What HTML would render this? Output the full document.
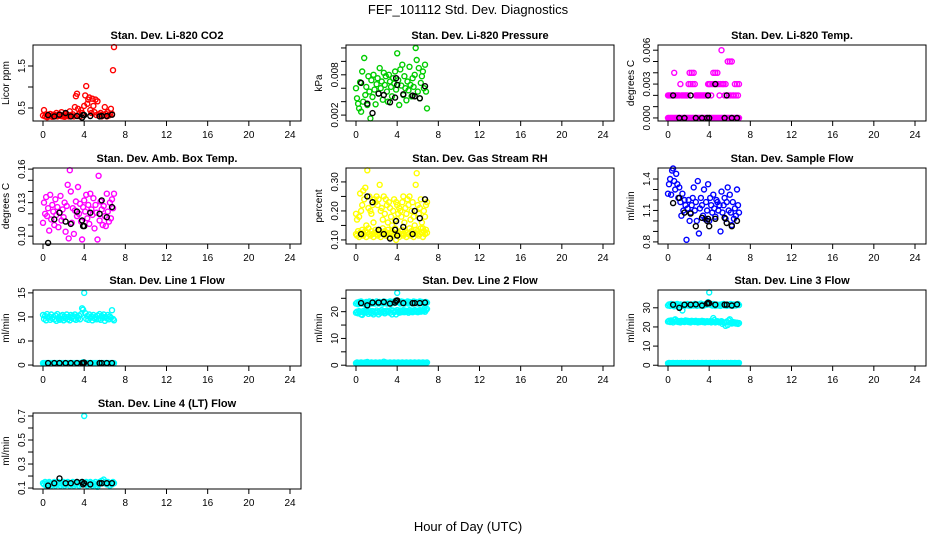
<!DOCTYPE html>
<html><head><meta charset="utf-8">
<style>
html,body{margin:0;padding:0;background:#fff;}
svg{display:block;font-family:"Liberation Sans",sans-serif;}
</style></head>
<body>
<svg id="chart" width="936" height="540" viewBox="0 0 936 540" xmlns="http://www.w3.org/2000/svg">
<rect x="0" y="0" width="936" height="540" fill="#fff"/>
<text x="468" y="14" text-anchor="middle" font-size="13">FEF_101112  Std. Dev. Diagnostics</text>
<text x="468" y="531" text-anchor="middle" font-size="13">Hour of Day (UTC)</text>
</svg>
<script>
// ---- data ----
const hrs=[0,0.1,0.2,0.3,0.4,0.5,0.6,0.7,0.8,0.9,1.0,1.1,1.2,1.3,1.4,1.5,1.6,1.7,1.8,1.9,2.0,2.1,2.2,2.3,2.4,2.5,2.6,2.7,2.8,2.9,3.0,3.1,3.2,3.3,3.4,3.5,3.6,3.7,3.8,3.9,4.0,4.1,4.2,4.3,4.4,4.5,4.6,4.7,4.8,4.9,5.0,5.1,5.2,5.3,5.4,5.5,5.6,5.7,5.8,5.9,6.0,6.1,6.2,6.3,6.4,6.5,6.6,6.7,6.8,6.9];
const blackHrs=[0.5,1.1,1.6,2.2,2.7,3.3,3.8,3.9,4.0,4.6,5.5,5.7,6.2,6.7];
const xTicks=[0,4,8,12,16,20,24];

const co2=[0.32,0.45,0.30,0.35,0.28,0.33,0.30,0.36,0.31,0.29,0.34,0.30,0.33,0.38,0.30,0.32,0.35,0.31,0.40,0.30,0.33,0.29,0.36,0.31,0.34,0.30,0.42,0.33,0.31,0.35,0.30,0.52,0.78,0.84,0.48,0.35,0.30,0.45,0.38,0.33,0.55,0.80,1.02,0.60,0.70,0.75,0.45,0.38,0.72,0.55,0.40,0.70,0.33,0.66,0.35,0.31,0.38,0.30,0.34,0.33,0.52,0.36,0.30,0.40,0.32,0.35,0.48,0.36,1.40,1.95];
const co2Black=[0.33,0.30,0.34,0.38,0.30,0.31,0.27,0.33,0.33,0.31,0.30,0.31,0.31,0.34];

const pres=[0.0060,0.0045,0.0037,0.0030,0.0069,0.0025,0.0085,0.0040,0.0105,0.0050,0.0062,0.0035,0.0078,0.0055,0.0015,0.0072,0.0047,0.0080,0.0058,0.0036,0.0066,0.0075,0.0052,0.0090,0.0060,0.0070,0.0043,0.0083,0.0065,0.0078,0.0055,0.0040,0.0080,0.0070,0.0062,0.0048,0.0075,0.0067,0.0085,0.0058,0.0112,0.0072,0.0035,0.0088,0.0064,0.0095,0.0050,0.0078,0.0060,0.0042,0.0070,0.0057,0.0092,0.0065,0.0048,0.0075,0.0062,0.0080,0.0120,0.0102,0.0055,0.0090,0.0045,0.0068,0.0078,0.0085,0.0060,0.0095,0.0055,0.0030];
const presBlack=[0.0068,0.0037,0.0023,0.0052,0.0050,0.0039,0.0046,0.0075,0.0065,0.0051,0.0049,0.0048,0.0045,0.0063];

const tempLow=[0,0,0,0,0,0,0,0,0,0,0,0,0,0,0,0,0,0,0,0,0,0,0,0,0,0,0,0,0,0,0,0,0,0,0,0,0,0,0,0,0,0,0,0,0,0,0,0,0,0,0,0,0,0,0,0,0,0,0,0,0,0,0,0,0,0,0,0,0,0];
const tempHigh=[0.002,0.002,0.002,0.002,0.002,0.002,0.004,0.002,0.002,0.002,0.002,0.002,0.003,0.002,0.002,0.002,0.002,0.002,0.002,0.002,0.003,0.004,0.003,0.004,0.003,0.004,0.003,0.002,0.002,0.002,0.002,0.002,0.002,0.002,0.002,0.002,0.002,0.002,0.002,0.003,0.003,0.003,0.002,0.003,0.004,0.003,0.004,0.003,0.004,0.003,0.002,0.003,0.006,0.003,0.003,0.002,0.003,0.002,0.005,0.002,0.005,0.002,0.005,0.002,0.002,0.003,0.002,0.003,0.002,0.003];
const tempBlack=[0.002,0,0,0.002,0,0,0,0.002,0,0.003,0,0.002,0,0];

const amb=[0.112,0.130,0.120,0.135,0.118,0.125,0.105,0.137,0.115,0.128,0.122,0.110,0.133,0.119,0.126,0.108,0.121,0.136,0.114,0.124,0.117,0.130,0.104,0.127,0.146,0.098,0.159,0.140,0.112,0.125,0.102,0.123,0.131,0.118,0.144,0.120,0.129,0.113,0.097,0.126,0.132,0.122,0.137,0.116,0.128,0.111,0.138,0.124,0.119,0.134,0.107,0.128,0.121,0.097,0.154,0.114,0.131,0.124,0.110,0.127,0.118,0.109,0.138,0.122,0.113,0.130,0.116,0.133,0.125,0.138];
const ambBlack=[0.094,0.115,0.121,0.113,0.111,0.122,0.114,0.109,0.109,0.121,0.120,0.132,0.117,0.126];

const rhLow=[0.12,0.115,0.13,0.11,0.125,0.12,0.135,0.115,0.12,0.13,0.11,0.125,0.14,0.12,0.115,0.13,0.12,0.11,0.125,0.135,0.12,0.115,0.13,0.12,0.11,0.125,0.14,0.12,0.13,0.115,0.12,0.135,0.11,0.125,0.12,0.13,0.115,0.12,0.14,0.10,0.125,0.12,0.11,0.13,0.12,0.135,0.115,0.12,0.13,0.11,0.125,0.12,0.14,0.115,0.13,0.12,0.11,0.125,0.135,0.12,0.13,0.115,0.12,0.14,0.125,0.11,0.13,0.12,0.135,0.125];
const rhHigh=[0.19,0.17,0.13,0.18,0.26,0.20,0.22,0.27,0.24,0.28,0.15,0.34,0.21,0.25,0.20,0.19,0.22,0.16,0.24,0.23,0.25,0.22,0.24,0.29,0.20,0.21,0.17,0.25,0.19,0.24,0.22,0.16,0.23,0.21,0.18,0.15,0.20,0.24,0.17,0.23,0.22,0.19,0.21,0.20,0.18,0.23,0.25,0.16,0.21,0.19,0.24,0.22,0.25,0.17,0.20,0.23,0.18,0.15,0.29,0.33,0.22,0.19,0.21,0.24,0.16,0.14,0.20,0.18,0.22,0.23];
const rhBlack=[0.12,0.25,0.23,0.135,0.12,0.105,0.135,0.165,0.115,0.145,0.12,0.20,0.175,0.24];

const samp=[1.26,1.35,1.40,1.25,1.48,1.50,1.38,1.30,1.45,1.35,1.22,1.32,1.18,1.05,1.26,1.10,1.20,1.15,0.82,1.12,1.20,1.00,1.08,1.15,1.22,1.32,1.10,1.18,1.00,1.38,0.88,1.12,1.22,1.15,1.05,1.30,1.02,1.18,1.10,1.35,1.00,1.22,1.15,1.08,1.25,1.12,1.04,1.20,1.18,1.10,1.15,0.90,1.28,1.08,1.15,1.22,1.02,1.18,1.32,1.10,1.25,1.08,0.96,1.18,1.02,1.12,1.05,1.30,1.15,1.08];
const sampBlack=[1.17,1.22,1.08,1.07,0.95,1.03,1.00,1.02,0.95,1.02,1.03,0.98,0.95,1.00];

const l1High=[10.4,9.6,10.2,9.3,10.6,9.8,10.1,9.4,10.5,9.7,10.0,9.5,10.3,9.2,10.6,9.8,9.4,10.2,9.6,10.4,9.3,10.1,9.7,10.5,9.5,10.0,9.3,10.4,9.8,10.2,9.6,10.5,9.4,10.1,9.7,10.3,9.5,10.6,11.8,11.5,15.0,10.8,9.6,10.2,9.4,10.5,9.8,10.1,9.3,10.4,9.7,10.0,9.5,10.3,9.6,10.6,9.4,10.2,9.8,10.5,9.2,10.0,9.7,10.4,9.5,10.1,9.8,11.4,9.6,9.3];
const l1Low=[0.4,0.4,0.4,0.4,0.4,0.4,0.4,0.4,0.4,0.4,0.4,0.4,0.4,0.4,0.4,0.4,0.4,0.4,0.4,0.4,0.4,0.4,0.4,0.4,0.4,0.4,0.4,0.4,0.4,0.4,0.4,0.4,0.4,0.4,0.4,0.4,0.4,0.4,0.4,0.6,0.4,0.4,0.4,0.4,0.4,0.4,0.4,0.4,0.4,0.4,0.4,0.4,0.4,0.4,0.4,0.4,0.4,0.4,0.4,0.4,0.4,0.4,0.4,0.4,0.4,0.4,0.4,0.4,0.4,0.4];
const l1Black=[0.4,0.4,0.4,0.4,0.4,0.4,0.4,0.4,0.5,0.4,0.4,0.4,0.4,0.4];

const l2High=[23.0,23.4,22.8,23.6,23.2,23.8,23.0,23.4,23.2,22.6,23.6,23.0,23.4,23.8,23.2,23.0,23.6,23.4,23.0,23.2,23.8,23.4,23.0,23.6,23.2,23.4,23.0,23.8,23.2,23.6,23.0,23.4,23.2,23.8,23.0,23.6,23.4,23.2,24.0,24.2,27.0,23.6,23.4,23.0,23.8,23.2,23.6,23.0,23.4,23.2,23.8,23.0,23.6,23.4,23.2,23.0,23.8,23.4,23.6,23.2,23.0,23.4,23.8,23.2,23.6,23.0,23.4,23.2,23.6,23.4];
const l2Mid=[19.6,20.0,19.4,20.2,19.8,19.0,18.8,20.2,19.6,20.4,19.8,20.0,19.2,20.4,19.8,19.4,20.2,19.0,20.0,19.6,20.4,19.8,19.0,20.2,19.6,20.6,19.8,20.2,19.4,20.0,20.4,19.8,20.2,19.6,20.6,19.0,20.4,19.8,20.2,19.0,20.6,20.0,19.6,20.4,19.8,20.2,20.6,19.8,20.4,20.0,20.2,19.6,20.6,20.0,20.4,19.8,20.2,20.6,20.0,20.4,19.8,20.2,20.6,20.0,20.4,20.2,20.8,20.0,20.6,21.0];
const l2Low=[0.8,1.0,0.8,0.9,0.8,1.0,0.8,0.9,0.8,1.0,0.8,1.2,0.8,0.9,0.8,1.0,0.8,0.9,0.8,1.0,0.8,0.9,0.8,1.0,0.8,0.9,0.8,1.3,0.8,1.0,0.8,0.9,0.8,1.0,0.8,0.9,0.8,1.0,0.8,0.9,0.8,1.0,0.8,0.9,0.8,1.0,0.8,0.9,0.8,1.0,0.8,0.9,0.8,1.0,0.8,0.9,0.8,1.0,0.8,0.9,0.8,1.0,0.8,0.9,0.8,1.0,0.8,0.9,0.8,1.0];
const l2Black=[23.2,22.4,23.4,23.4,23.6,23.0,23.4,24.0,24.2,23.2,23.2,23.2,23.2,23.4];

const l3High=[31.2,31.8,31.0,32.0,31.4,31.6,30.8,31.8,31.2,32.0,31.4,30.6,31.8,31.2,28.6,31.6,31.0,31.8,31.4,32.0,31.2,31.6,31.0,31.8,31.4,31.2,32.0,31.6,31.0,31.8,31.4,31.2,32.2,31.6,31.0,31.8,31.4,32.0,31.6,33.0,38.0,31.8,31.4,31.2,32.0,31.6,31.0,31.8,31.4,31.2,31.6,31.0,31.8,31.4,32.0,31.2,31.6,31.0,31.8,31.4,31.2,32.0,31.6,31.0,31.8,31.4,31.2,31.6,32.0,31.4];
const l3Mid=[22.8,23.2,22.6,23.4,23.0,22.4,23.6,24.0,22.8,23.2,22.6,23.0,22.4,23.2,22.8,23.0,22.6,23.4,22.8,23.2,22.6,23.0,22.4,23.2,22.8,23.0,22.6,23.2,22.8,22.4,23.0,22.6,22.8,23.2,22.6,23.0,22.4,22.8,23.0,22.6,22.8,23.0,22.4,22.8,24.6,23.6,22.4,22.8,23.0,22.6,22.4,22.8,23.0,21.6,22.4,22.0,20.6,22.8,21.0,23.4,24.0,22.2,21.8,22.6,22.0,22.4,21.8,22.2,21.6,22.0];
const l3Low=[1.0,1.2,1.0,1.1,1.0,1.2,1.0,1.1,1.0,1.2,1.0,1.1,1.0,1.2,1.0,1.1,1.0,1.2,1.0,1.1,1.0,1.2,1.0,1.1,1.0,1.2,1.0,1.1,1.0,1.2,1.0,1.1,1.0,1.2,1.0,1.1,1.0,1.2,1.0,1.1,1.0,1.2,1.0,1.1,1.0,1.2,1.0,1.1,1.0,1.2,1.0,1.1,1.0,1.2,1.0,1.1,1.0,1.2,1.0,1.1,1.0,1.2,1.0,1.1,1.0,1.2,1.0,1.1,1.0,1.2];
const l3Black=[31.6,30.0,31.6,31.6,31.8,31.2,32.2,32.6,32.4,31.6,31.6,31.6,31.2,31.8];

const l4=[0.14,0.13,0.15,0.12,0.14,0.13,0.15,0.14,0.12,0.14,0.13,0.15,0.12,0.14,0.13,0.15,0.14,0.12,0.14,0.13,0.15,0.12,0.14,0.13,0.15,0.14,0.12,0.14,0.13,0.15,0.12,0.14,0.13,0.15,0.14,0.12,0.14,0.13,0.15,0.14,0.70,0.13,0.15,0.12,0.14,0.13,0.15,0.14,0.12,0.14,0.13,0.15,0.12,0.11,0.13,0.15,0.14,0.16,0.14,0.17,0.15,0.14,0.13,0.15,0.14,0.12,0.14,0.13,0.15,0.14];
const l4Black=[0.12,0.14,0.18,0.14,0.14,0.15,0.15,0.13,0.14,0.13,0.14,0.14,0.14,0.14];

// y tick values and labels per panel
const ticksCO2=[0.5,1.0,1.5], labCO2=["0.5","","1.5"];
const ticksPres=[0.002,0.004,0.006,0.008,0.010,0.012], labPres=["0.002","","","0.008","",""];
const ticksTemp=[0,0.001,0.002,0.003,0.004,0.005,0.006], labTemp=["0.000","","","0.003","","","0.006"];
const ticksAmb=[0.10,0.11,0.12,0.13,0.14,0.15,0.16], labAmb=["0.10","","","0.13","","","0.16"];
const ticksRH=[0.10,0.15,0.20,0.25,0.30], labRH=["0.10","","0.20","","0.30"];
const ticksSamp=[0.8,0.9,1.0,1.1,1.2,1.3,1.4], labSamp=["0.8","","","1.1","","","1.4"];
const ticksL1=[0,5,10,15], labL1=["0","5","10","15"];
const ticksL2=[0,5,10,15,20,25], labL2=["0","","10","","20",""];
const ticksL3=[0,10,20,30], labL3=["0","10","20","30"];
const ticksL4=[0.1,0.2,0.3,0.4,0.5,0.6,0.7], labL4=["0.1","","0.3","","0.5","","0.7"];

// ---- layout ----
const NS="http://www.w3.org/2000/svg";
const svg=document.getElementById('chart');
const colL=[33,346,658], rowT=[45,168,290,413], W=268, H=76;
function mk(tag,attrs,parent){const e=document.createElementNS(NS,tag);for(const k in attrs)e.setAttribute(k,attrs[k]);(parent||svg).appendChild(e);return e;}

const panels=[
 {c:0,r:0,key:'co2',title:'Stan. Dev. Li-820 CO2',yl:'Licor ppm',ylim:[0.19,2.0],ticks:ticksCO2,labs:labCO2,series:[[hrs,co2,'#ff0000'],[blackHrs,co2Black,'#000']]},
 {c:1,r:0,key:'pressure',title:'Stan. Dev. Li-820 Pressure',yl:'kPa',ylim:[0.00112,0.01244],ticks:ticksPres,labs:labPres,series:[[hrs,pres,'#00cd00'],[blackHrs,presBlack,'#000']]},
 {c:2,r:0,key:'temp',title:'Stan. Dev. Li-820 Temp.',yl:'degrees C',ylim:[-0.00027,0.00646],ticks:ticksTemp,labs:labTemp,series:[[hrs,tempLow,'#ff00ff'],[hrs,tempHigh,'#ff00ff'],[blackHrs,tempBlack,'#000']]},
 {c:0,r:1,key:'amb-temp',title:'Stan. Dev. Amb. Box Temp.',yl:'degrees C',ylim:[0.093,0.161],ticks:ticksAmb,labs:labAmb,series:[[hrs,amb,'#ff00ff'],[blackHrs,ambBlack,'#000']]},
 {c:1,r:1,key:'rh',title:'Stan. Dev. Gas Stream RH',yl:'percent',ylim:[0.086,0.348],ticks:ticksRH,labs:labRH,series:[[hrs,rhLow,'#ffff00'],[hrs,rhHigh,'#ffff00'],[blackHrs,rhBlack,'#000']]},
 {c:2,r:1,key:'sample-flow',title:'Stan. Dev. Sample Flow',yl:'ml/min',ylim:[0.78,1.505],ticks:ticksSamp,labs:labSamp,series:[[hrs,samp,'#0000ff'],[blackHrs,sampBlack,'#000']]},
 {c:0,r:2,key:'line1',title:'Stan. Dev. Line 1 Flow',yl:'ml/min',ylim:[-0.2,15.6],ticks:ticksL1,labs:labL1,series:[[hrs,l1High,'#00ffff'],[hrs,l1Low,'#00ffff'],[blackHrs,l1Black,'#000']]},
 {c:1,r:2,key:'line2',title:'Stan. Dev. Line 2 Flow',yl:'ml/min',ylim:[-0.3,28.1],ticks:ticksL2,labs:labL2,series:[[hrs,l2High,'#00ffff'],[hrs,l2Mid,'#00ffff'],[hrs,l2Low,'#00ffff'],[blackHrs,l2Black,'#000']]},
 {c:2,r:2,key:'line3',title:'Stan. Dev. Line 3 Flow',yl:'ml/min',ylim:[-0.4,39.3],ticks:ticksL3,labs:labL3,series:[[hrs,l3High,'#00ffff'],[hrs,l3Mid,'#00ffff'],[hrs,l3Low,'#00ffff'],[blackHrs,l3Black,'#000']]},
 {c:0,r:3,key:'line4',title:'Stan. Dev. Line 4 (LT) Flow',yl:'ml/min',ylim:[0.092,0.725],ticks:ticksL4,labs:labL4,series:[[hrs,l4,'#00ffff'],[blackHrs,l4Black,'#000']]}
];

panels.forEach(p=>{
  const L=colL[p.c], T=rowT[p.r];
  const g=mk('g',{});
  
  
  const xs=v=>L+10+v*(247/24);
  const ys=v=>T+H-(v-p.ylim[0])/(p.ylim[1]-p.ylim[0])*H;
  const t=mk('text',{x:L+W/2,y:T-6,'text-anchor':'middle','font-size':'11','font-weight':'bold'},g);
  t.textContent=p.title;
  
  
  const yt=mk('text',{transform:`translate(${L-24},${T+H/2}) rotate(-90)`,'text-anchor':'middle','font-size':'10'},g);
  yt.textContent=p.yl;
  
  
  // x axis
  const xa=mk('g',{},g);
  
  
  mk('line',{x1:xs(xTicks[0]),x2:xs(xTicks[xTicks.length-1]),y1:T+H,y2:T+H,stroke:'#000'},xa);
  xTicks.forEach(v=>{
    mk('line',{x1:xs(v),x2:xs(v),y1:T+H,y2:T+H+5,stroke:'#000'},xa);
    const tl=mk('text',{x:xs(v),y:T+H+17,'text-anchor':'middle','font-size':'10'},xa);
    tl.textContent=v;
    
    
  });
  // y axis
  const ya=mk('g',{},g);
  
  
  mk('line',{x1:L,x2:L,y1:ys(p.ticks[0]),y2:ys(p.ticks[p.ticks.length-1]),stroke:'#000'},ya);
  p.ticks.forEach((v,i)=>{
    mk('line',{x1:L-5,x2:L,y1:ys(v),y2:ys(v),stroke:'#000'},ya);
    if(p.labs[i]){
      const tl=mk('text',{transform:`translate(${L-8},${ys(v)}) rotate(-90)`,'text-anchor':'middle','font-size':'10'},ya);
      tl.textContent=p.labs[i];
      
      
    }
  });
  // points
  p.series.forEach((s,si)=>{
    const sg=mk('g',{fill:'none',stroke:s[2],'stroke-width':'1.4'},g);
    
    
    s[0].forEach((h,i)=>{
      if(s[1][i]===undefined) return;
      const c=mk('circle',{cx:xs(h).toFixed(1),cy:ys(s[1][i]).toFixed(1),r:'2.5'},sg);
      
      
    });
  });
  const box=mk('rect',{x:L,y:T,width:W,height:H,fill:'none',stroke:'#000'},g);
  
  
});
</script>
</body></html>
